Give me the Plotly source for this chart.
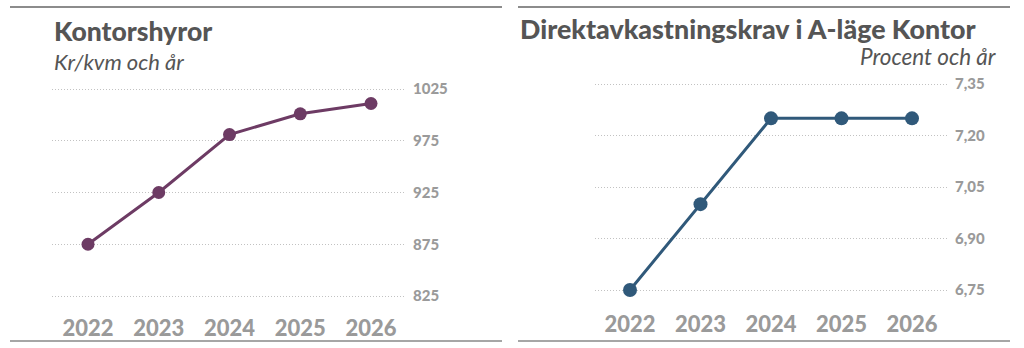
import plotly.graph_objects as go

years = [2022, 2023, 2024, 2025, 2026]
year_labels = ["2022", "2023", "2024", "2025", "2026"]

rent = [875, 925, 981, 1001, 1011]
rent_ticks = [825, 875, 925, 975, 1025]
rent_tick_text = ["825", "875", "925", "975", "1025"]

yield_req = [6.75, 7.00, 7.25, 7.25, 7.25]
yield_ticks = [6.75, 6.90, 7.05, 7.20, 7.35]
yield_tick_text = ["6,75", "6,90", "7,05", "7,20", "7,35"]

W, H = 1024, 348
FONT = "Lato"
GRAY = "#9a9a9a"
TITLE = "#555555"
PURPLE = "#6d3b64"
BLUE = "#30597a"


def px_x(p):
    return p / W


def px_y(p):
    return 1 - p / H


fig = go.Figure()

fig.add_trace(go.Scatter(
    x=years, y=rent, mode="lines+markers", xaxis="x", yaxis="y",
    line=dict(color=PURPLE, width=3), marker=dict(color=PURPLE, size=13),
    hoverinfo="skip", showlegend=False))

fig.add_trace(go.Scatter(
    x=years, y=yield_req, mode="lines+markers", xaxis="x2", yaxis="y2",
    line=dict(color=BLUE, width=3), marker=dict(color=BLUE, size=14),
    hoverinfo="skip", showlegend=False))

xcommon = dict(tickmode="array", tickvals=years, ticktext=year_labels,
               showgrid=False, zeroline=False, showline=False, ticks="",
               tickfont=dict(family=FONT, size=22, color=GRAY, weight=900),
               fixedrange=True)
ycommon = dict(tickmode="array", side="right", showgrid=True,
               griddash="1px,2px", gridcolor="#c2c2c2", gridwidth=1,
               zeroline=False, showline=False, ticks="",
               ticklabelstandoff=7,
               tickfont=dict(family=FONT, size=15, color=GRAY, weight=900),
               fixedrange=True)

# left chart geometry (pixels)
L_x0, L_x1 = 52, 405
L_y0, L_y1 = 80, 305
l_pxu_x = (371 - 88) / 4
l_pxu_y = (296 - 89) / 200

# right chart geometry
R_x0, R_x1 = 595, 947
R_y0, R_y1 = 75, 299
r_pxu_x = (912 - 630) / 4
r_pxu_y = (290 - 84) / 0.6

fig.update_layout(
    width=W, height=H,
    margin=dict(l=0, r=0, t=0, b=0),
    paper_bgcolor="white", plot_bgcolor="white",
    xaxis=dict(domain=[px_x(L_x0), px_x(L_x1)],
               range=[2022 - (88 - L_x0) / l_pxu_x, 2026 + (L_x1 - 371) / l_pxu_x],
               anchor="y", ticklabelstandoff=8, **xcommon),
    yaxis=dict(domain=[px_y(L_y1), px_y(L_y0)],
               range=[825 - (L_y1 - 296) / l_pxu_y, 1025 + (89 - L_y0) / l_pxu_y],
               tickvals=rent_ticks, ticktext=rent_tick_text, anchor="x",
               **ycommon),
    xaxis2=dict(domain=[px_x(R_x0), px_x(R_x1)],
                range=[2022 - (630 - R_x0) / r_pxu_x, 2026 + (R_x1 - 912) / r_pxu_x],
                anchor="y2", ticklabelstandoff=10, **xcommon),
    yaxis2=dict(domain=[px_y(R_y1), px_y(R_y0)],
                range=[6.75 - (R_y1 - 290) / r_pxu_y, 7.35 + (84 - R_y0) / r_pxu_y],
                tickvals=yield_ticks, ticktext=yield_tick_text, anchor="x2",
                **ycommon),
)

shapes = [
    dict(type="line", xref="paper", yref="paper", x0=px_x(10), x1=px_x(502),
         y0=px_y(7), y1=px_y(7), line=dict(color="#666666", width=1.5)),
    dict(type="line", xref="paper", yref="paper", x0=px_x(10), x1=px_x(502),
         y0=px_y(341), y1=px_y(341), line=dict(color="#888888", width=1.5)),
    dict(type="line", xref="paper", yref="paper", x0=px_x(518), x1=px_x(1010),
         y0=px_y(7), y1=px_y(7), line=dict(color="#666666", width=1.5)),
    dict(type="line", xref="paper", yref="paper", x0=px_x(518), x1=px_x(1010),
         y0=px_y(341), y1=px_y(341), line=dict(color="#888888", width=1.5)),
]
fig.update_layout(shapes=shapes)

annotations = [
    dict(text="Kontorshyror", x=px_x(52), y=px_y(31), xref="paper", yref="paper",
         xanchor="left", yanchor="middle", showarrow=False,
         font=dict(family=FONT, size=26.5, color=TITLE, weight=900)),
    dict(text="<i>Kr/kvm och år</i>", x=px_x(52), y=px_y(61), xref="paper", yref="paper",
         xanchor="left", yanchor="middle", showarrow=False,
         font=dict(family=FONT, size=22, color=TITLE, weight=400)),
    dict(text="Direktavkastningskrav i A-läge Kontor", x=px_x(518), y=px_y(29),
         xref="paper", yref="paper", xanchor="left", yanchor="middle", showarrow=False,
         font=dict(family=FONT, size=26.8, color=TITLE, weight=900)),
    dict(text="<i>Procent och år</i>", x=px_x(999), y=px_y(57), xref="paper", yref="paper",
         xanchor="right", yanchor="middle", showarrow=False,
         font=dict(family=FONT, size=22.5, color=TITLE, weight=400)),
]
fig.update_layout(annotations=annotations)

fig.write_html("out.html", config={"displayModeBar": False})
